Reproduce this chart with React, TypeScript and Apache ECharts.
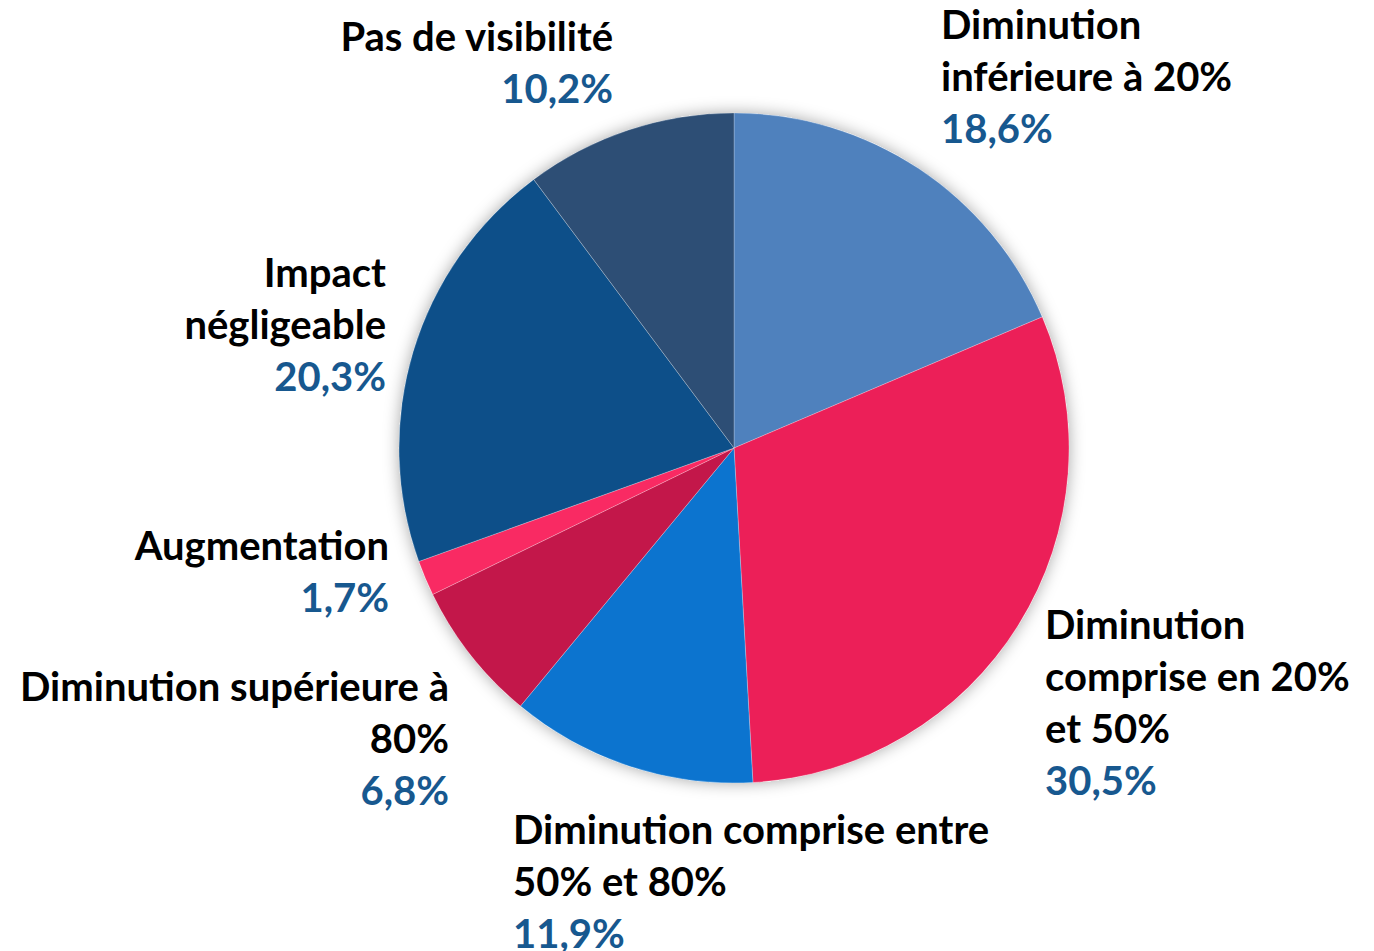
import React, { useEffect, useRef } from "react";
import * as echarts from "echarts";

const categories = [
  "Diminution\ninférieure à 20%",
  "Diminution\ncomprise en 20%\net 50%",
  "Diminution comprise entre\n50% et 80%",
  "Diminution supérieure à\n80%",
  "Augmentation",
  "Impact\nnégligeable",
  "Pas de visibilité",
];
const values = [18.6, 30.5, 11.9, 6.8, 1.7, 20.3, 10.2];
const colors = ["#4F81BD", "#EC1F58", "#0C74CF", "#C3174A", "#F92A63", "#0D4F89", "#2D4E75"];

// label block anchor (layout only): x, top y, alignment
const labelAnchors: [number, number, string][] = [
  [941, -2, "left"],
  [1045, 598, "left"],
  [513, 803, "left"],
  [449, 660, "right"],
  [389, 519, "right"],
  [386, 246, "right"],
  [613, 10, "right"],
];

const FONT = "Lato, 'Open Sans', sans-serif";

export default function App() {
  const ref = useRef<HTMLDivElement>(null);
  useEffect(() => {
    if (!ref.current) return;
    const chart = echarts.init(ref.current, null, { renderer: "svg" });
    chart.setOption({
      animation: false,
      backgroundColor: "#ffffff",
      series: [
        {
          type: "pie",
          silent: true,
          center: [734, 448],
          radius: 335,
          z: 1,
          label: { show: false },
          labelLine: { show: false },
          itemStyle: {
            color: "#ffffff",
            shadowBlur: 16,
            shadowColor: "rgba(0,0,0,0.35)",
          },
          data: [{ value: 1, name: "" }],
        },
        {
          type: "pie",
          z: 2,
          center: [734, 448],
          radius: 335,
          startAngle: 90,
          clockwise: true,
          avoidLabelOverlap: false,
          itemStyle: { borderColor: "rgba(255,255,255,0.3)", borderWidth: 0.8 },
          label: {
            show: true,
            position: "outside",
            fontFamily: FONT,
            formatter: (p: any) =>
              `{n|${p.name}}\n{v|${p.value.toFixed(1).replace(".", ",")}%}`,
            rich: {
              n: { fontFamily: FONT, fontWeight: "bold", fontSize: 40, lineHeight: 52, color: "#000000" },
              v: { fontFamily: FONT, fontWeight: "bold", fontSize: 40, lineHeight: 52, color: "#17588F" },
            },
          },
          labelLine: { show: false },
          labelLayout: (params: any) => {
            const a = labelAnchors[params.dataIndex];
            return { x: a[0], y: a[1], align: a[2], verticalAlign: "top" };
          },
          data: categories.map((c, i) => ({
            name: c,
            value: values[i],
            itemStyle: { color: colors[i] },
            label: { align: labelAnchors[i][2] },
          })),
        },
      ],
    });
    return () => chart.dispose();
  }, []);
  return (
    <div
      ref={ref}
      style={{ position: "fixed", left: 0, top: 0, width: 1374, height: 951 }}
    />
  );
}
